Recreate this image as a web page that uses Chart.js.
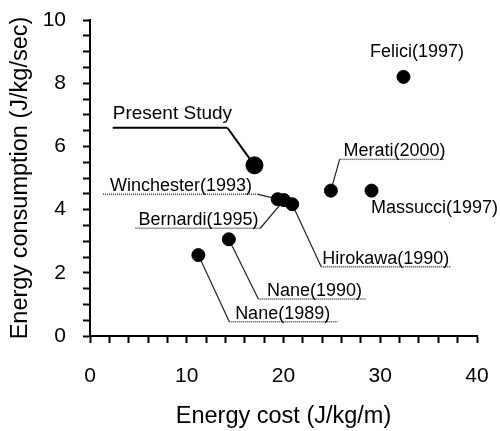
<!DOCTYPE html>
<html>
<head>
<meta charset="utf-8">
<script src="https://cdn.jsdelivr.net/npm/chart.js@4/dist/chart.umd.min.js"></script>
<style>
  html, body { margin: 0; padding: 0; background: #fff; }
  #wrap { width: 500px; height: 431px; }
</style>
</head>
<body>
<div id="wrap"><canvas id="scatter-chart"></canvas></div>
<script>
// values
const studies = ["Present Study", "Winchester(1993)", "Bernardi(1995)", "Hirokawa(1990)",
                 "Nane(1990)", "Nane(1989)", "Merati(2000)", "Massucci(1997)", "Felici(1997)"];
const energyCost = [17.0, 19.4, 20.05, 20.9, 14.35, 11.2, 24.9, 29.1, 32.4];        // J/kg/m
const energyConsumption = [5.4, 4.33, 4.3, 4.17, 3.06, 2.56, 4.6, 4.6, 8.2];       // J/kg/sec
const xMajorTicks = [0, 10, 20, 30, 40];
const yMajorTicks = [0, 2, 4, 6, 8, 10];

// where the labels sit (data units): underline from x0 to x1 at y, leader from elbow end to the point
const callouts = [
  { i: 0, x0: 2.35, x1: 14.2, y: 6.59, tx: 2.35, elbow: 'right', gap: 9, bold: true },
  { i: 1, x0: 1.35, x1: 17.3, y: 4.49, tx: 2.07, elbow: 'right', gap: 3 },
  { i: 2, x0: 4.7,  x1: 17.6, y: 3.41, tx: 5.0,  elbow: 'right', gap: 3 },
  { i: 3, x0: 23.9, x1: 37.3, y: 2.19, tx: 24.0, elbow: 'left',  gap: 3 },
  { i: 4, x0: 17.4, x1: 28.5, y: 1.17, tx: 18.3, elbow: 'left',  gap: 3 },
  { i: 5, x0: 14.4, x1: 25.6, y: 0.45, tx: 15.0, elbow: 'left',  gap: 3 },
  { i: 6, x0: 25.8, x1: 36.6, y: 5.59, tx: 26.2, elbow: 'left',  gap: 3 }
];
const plainLabels = [
  { i: 7, x: 35.6, y: 4.05 },
  { i: 8, x: 33.8, y: 9.0 }
];

const FONT = "'Liberation Sans', Arial, Helvetica, sans-serif";

const calloutPlugin = {
  id: 'callouts',
  beforeDatasetsDraw(chart) {
    const { ctx, scales: { x, y } } = chart;
    ctx.save();
    callouts.forEach(c => {
      const ly = y.getPixelForValue(c.y);
      const a = x.getPixelForValue(c.x0), b = x.getPixelForValue(c.x1);
      const ex = c.elbow === 'right' ? b : a;
      const px = x.getPixelForValue(energyCost[c.i]);
      const py = y.getPixelForValue(energyConsumption[c.i]);
      ctx.strokeStyle = c.bold ? '#000' : '#222';
      ctx.lineWidth = c.bold ? 2 : 1.2;
      ctx.setLineDash([]);
      ctx.beginPath();
      ctx.moveTo(ex, ly);
      ctx.lineTo(px, py);
      ctx.stroke();
      ctx.beginPath();
      if (!c.bold) { ctx.setLineDash([1, 1]); ctx.strokeStyle = '#333'; ctx.lineWidth = 1.4; }
      ctx.moveTo(a, ly);
      ctx.lineTo(b, ly);
      ctx.stroke();
    });
    ctx.restore();
  },
  afterDatasetsDraw(chart) {
    const { ctx, scales: { x, y } } = chart;
    ctx.save();
    ctx.fillStyle = '#000';
    ctx.textBaseline = 'alphabetic';
    callouts.forEach(c => {
      ctx.font = (c.bold ? 19 : 18) + 'px ' + FONT;
      ctx.textAlign = 'left';
      ctx.fillText(studies[c.i], x.getPixelForValue(c.tx), y.getPixelForValue(c.y) - c.gap);
    });
    ctx.font = '18px ' + FONT;
    ctx.textAlign = 'center';
    ctx.textBaseline = 'middle';
    plainLabels.forEach(l => {
      ctx.fillText(studies[l.i], x.getPixelForValue(l.x), y.getPixelForValue(l.y));
    });
    ctx.restore();
  }
};

new Chart(document.getElementById("scatter-chart"), {
  type: 'scatter',
  data: {
    datasets: [{
      label: 'Studies',
      data: energyCost.map((v, k) => ({ x: v, y: energyConsumption[k] })),
      backgroundColor: '#000',
      borderColor: '#000',
      pointRadius: studies.map((s, k) => k === 0 ? 8.5 : 6.5),
      pointHoverRadius: studies.map((s, k) => k === 0 ? 8.5 : 6.5)
    }]
  },
  options: {
    responsive: true,
    maintainAspectRatio: false,
    animation: false,
    layout: { padding: { top: 20, right: 23, left: 0, bottom: 0 } },
    plugins: {
      legend: { display: false },
      tooltip: { enabled: false }
    },
    scales: {
      x: {
        type: 'linear',
        min: 0, max: 40,
        afterFit: s => { s.height = 95; s.paddingLeft = 0; s.paddingRight = 0; },
        border: { color: '#000', width: 2 },
        grid: { drawOnChartArea: false, drawTicks: true, tickLength: 7, tickColor: '#000', tickWidth: 2 },
        ticks: {
          stepSize: 2, autoSkip: false, maxRotation: 0,
          color: '#000', padding: 21,
          font: { family: FONT, size: 21 },
          callback: v => xMajorTicks.includes(v) ? String(v) : ''
        },
        title: {
          display: true, text: 'Energy cost (J/kg/m)', color: '#000',
          font: { family: FONT, size: 23.5 }, padding: { top: 0, bottom: 0 }
        }
      },
      y: {
        type: 'linear',
        min: 0, max: 10,
        afterFit: s => { s.width = 90; s.paddingTop = 0; s.paddingBottom = 0; },
        border: { color: '#000', width: 2 },
        grid: { drawOnChartArea: false, drawTicks: true, tickLength: 7, tickColor: '#000', tickWidth: 2 },
        ticks: {
          stepSize: 0.5, autoSkip: false,
          color: '#000', padding: 17,
          font: { family: FONT, size: 21 },
          callback: v => yMajorTicks.includes(v) ? String(v) : ''
        },
        title: {
          display: true, text: 'Energy consumption (J/kg/sec)', color: '#000',
          font: { family: FONT, size: 23.5 }, padding: { top: 6, bottom: 0 }
        }
      }
    }
  },
  plugins: [calloutPlugin]
});
</script>
</body>
</html>
